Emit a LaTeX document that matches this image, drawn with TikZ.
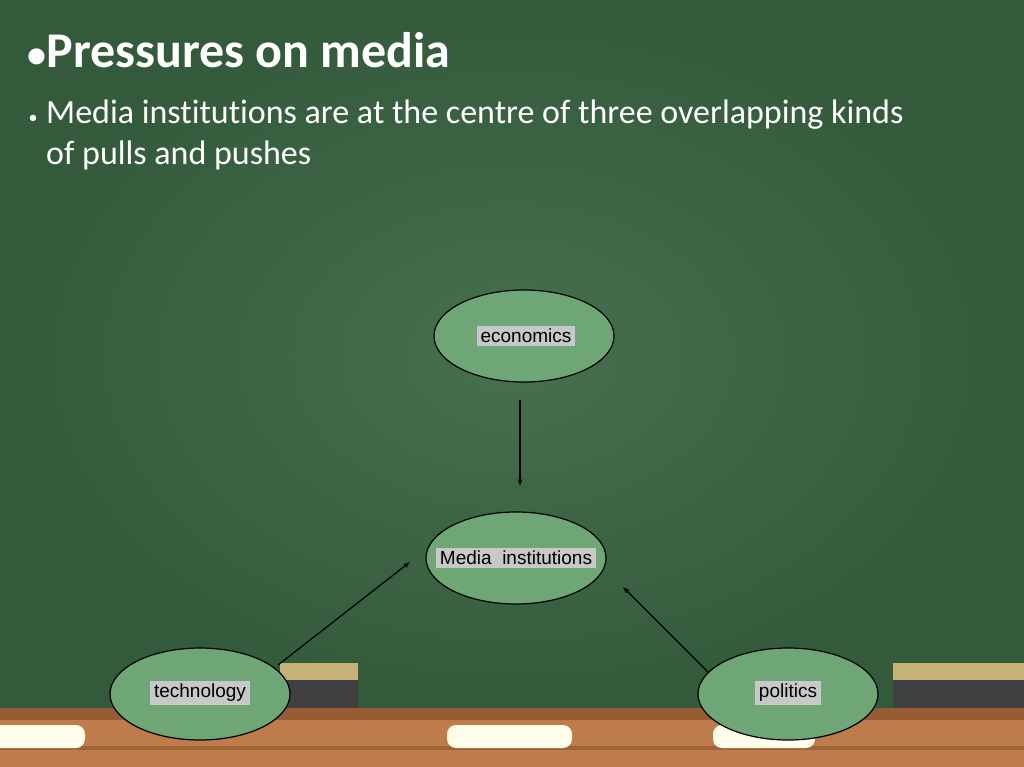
\documentclass[tikz,border=0pt]{standalone}
\usepackage{fontspec}
\setmainfont[Ligatures=NoCommon]{Carlito}
\setsansfont{Liberation Sans}
\begin{document}
\begin{tikzpicture}[x=1pt,y=-1pt,
  bubble/.style={ellipse,draw=black,fill=ellfill,minimum width=180pt,minimum height=92pt,inner sep=0pt,line width=1.2pt},
  tag/.style={fill=taggray,inner xsep=4pt,inner ysep=3pt,font=\sffamily\fontsize{19}{22}\selectfont},
  arr/.style={-latex,line width=1.2pt}]
\usetikzlibrary{shapes.geometric}
\definecolor{board}{RGB}{70,112,78}
\definecolor{boarddark}{RGB}{52,90,60}
\definecolor{ellfill}{RGB}{110,166,118}
\definecolor{taggray}{RGB}{200,200,200}
\definecolor{wood}{RGB}{190,124,74}
\definecolor{wooddark}{RGB}{150,92,50}
\useasboundingbox (0,0) rectangle (1024,767);
\fill[inner color=board,outer color=boarddark] (0,0) rectangle (1024,712);
% erasers
\fill[black!75] (280,680) rectangle (358,717);
\fill[brown!50!olive!60!white] (280,663) rectangle (358,680);
\fill[black!75] (893,680) rectangle (1024,717);
\fill[brown!50!olive!60!white] (893,663) rectangle (1024,680);
% ledge
\fill[wooddark] (0,708) rectangle (1024,720);
\fill[wood] (0,720) rectangle (1024,767);
\fill[wooddark!80!wood] (0,746) rectangle (1024,750);
% chalk
\fill[white!92!yellow,rounded corners=9pt] (-10,725) rectangle (85,748);
\fill[white!92!yellow,rounded corners=9pt] (447,725) rectangle (572,748);
\fill[white!92!yellow,rounded corners=9pt] (713,725) rectangle (815,748);
% text
\node[anchor=west,text=white,font=\bfseries\fontsize{50}{56}\selectfont] (title) at (24,50) {{\fontsize{38}{40}\selectfont•}Pressures on media};
\node[anchor=center,text=white,font=\fontsize{18}{22}\selectfont] (b) at (33,119) {•};
\node[anchor=north west,text=white,align=left,inner sep=0pt,font=\fontsize{34}{41}\selectfont] (body) at (46,100) {Media institutions are at the centre of three overlapping kinds\\of pulls and pushes};
% nodes
\node[bubble] (eco) at (524,336) {};
\node[tag] at (526,336) {economics};
\node[bubble] (med) at (516,558) {};
\node[tag] at (516,558) {Media\ \ institutions};
\node[bubble] (tec) at (200,694) {};
\node[tag] at (200,693) {technology};
\node[bubble] (pol) at (788,694) {};
\node[tag] at (788,693) {politics};
\coordinate (a1) at (520,400); \coordinate (a2) at (520,486);
\coordinate (b1) at (278,665); \coordinate (b2) at (410,562);
\coordinate (c1) at (708,672); \coordinate (c2) at (623,587);
\draw[arr] (a1) -- (a2);
\draw[arr] (b1) -- (b2);
\draw[arr] (c1) -- (c2);
\end{tikzpicture}
\end{document}
